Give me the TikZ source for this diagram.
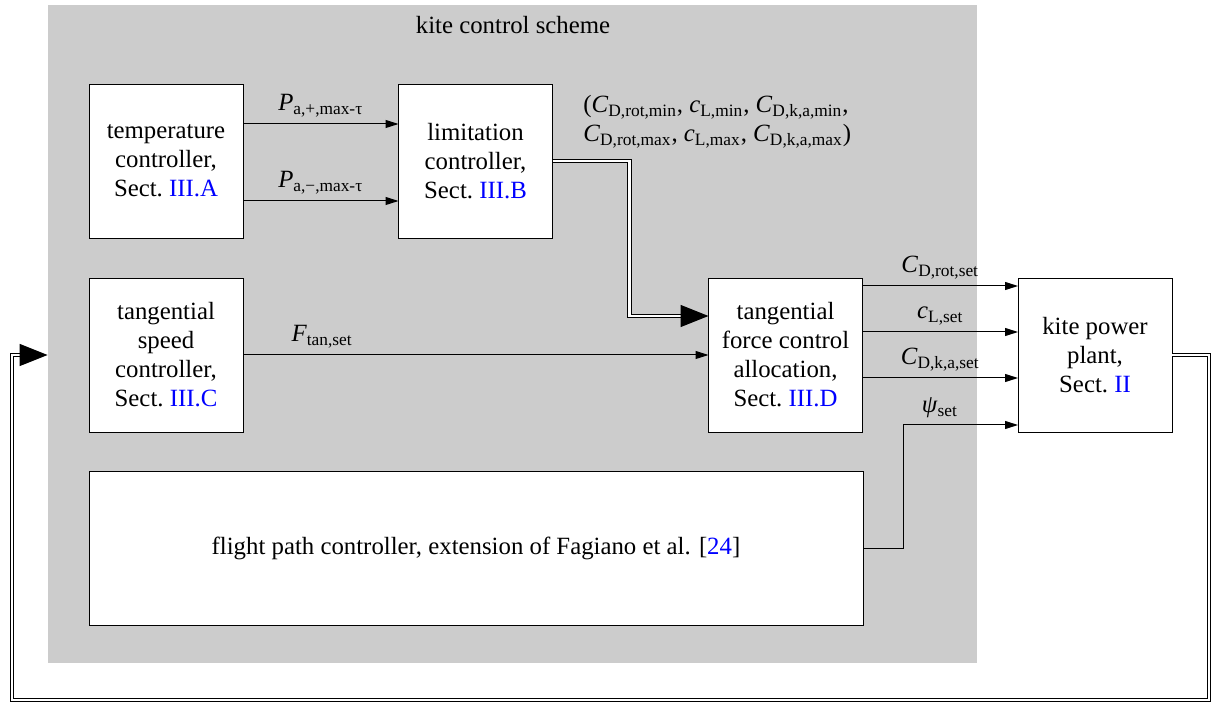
\documentclass[tikz,border=0pt]{standalone}
\usepackage{fontspec}
\setmainfont{Liberation Serif}
\usetikzlibrary{arrows.meta,positioning,calc}
\tikzset{
    scheme color/.style={fill=gray!40},
    block/.style={draw,fill=white,thin,minimum width=77pt,minimum height=77pt,align=center,inner sep=2pt,outer sep=0pt},
    arr/.style={-{Triangle[length=6.5pt,width=4pt]},line width=0.5pt},
    dblarr/.style={double,double distance=1.2pt,line width=0.6pt,-{Triangle[length=14pt,width=11pt]}},
}
\tikzstyle{every node}=[font=\fontsize{12.4}{14.5}\selectfont]
\newcommand{\sig}[2]{\textit{#1}\textsubscript{#2}}
\newcommand{\sectref}[1]{Sect.~\textcolor{blue}{#1}}

\begin{document}
\begin{tikzpicture}[x=0.5pt,y=-0.5pt]
    \useasboundingbox (0,0) rectangle (1211,705);
    % control scheme background
    \node[scheme color,minimum width=464.5pt,minimum height=329pt,inner sep=0pt] (scheme) at (512.5,334) {};
    \node[anchor=north] (title) at (513,9) {kite control scheme};
    % blocks
    \node[block] (temp) at (166,161) {temperature\\controller,\\\sectref{III.A}};
    \node[block] (limit) at (475.5,161) {limitation\\controller,\\\sectref{III.B}};
    \node[block] (speed) at (166,355) {tangential\\speed\\controller,\\\sectref{III.C}};
    \node[block] (force) at (785.5,355) {tangential\\force control\\allocation,\\\sectref{III.D}};
    \node[block,minimum width=387pt] (flight) at (476,548.5) {flight path controller, extension of Fagiano et al. [\textcolor{blue}{24}]};
    \node[block] (plant) at (1095,355) {kite power\\plant,\\\sectref{II}};
    % signals
    \draw[arr] ($(temp.east)+(0,18.5pt)$) -- node[above] {\sig{P}{a,+,max-τ}} ($(limit.west)+(0,18.5pt)$);
    \draw[arr] ($(temp.east)+(0,-20pt)$) -- node[above] {\sig{P}{a,−,max-τ}} ($(limit.west)+(0,-20pt)$);
    \draw[dblarr] (limit.east) -- ++(38.5pt,0) |- ($(force.west)+(0,19.5pt)$);
    \node[anchor=west,align=left,inner sep=0pt] (limits) at (583,122) {(\sig{C}{D,rot,min}, \sig{c}{L,min}, \sig{C}{D,k,a,min},\\\sig{C}{D,rot,max}, \sig{c}{L,max}, \sig{C}{D,k,a,max})};
    \draw[arr] (speed.east) -- node[above,pos=0.17] {\sig{F}{tan,set}} (force.west);
    \draw[arr] ($(force.east)+(0,34.5pt)$) -- node[above] {\sig{C}{D,rot,set}} ($(plant.west)+(0,34.5pt)$);
    \draw[arr] ($(force.east)+(0,11.5pt)$) -- node[above] {\sig{c}{L,set}} ($(plant.west)+(0,11.5pt)$);
    \draw[arr] ($(force.east)+(0,-11.5pt)$) -- node[above] {\sig{C}{D,k,a,set}} ($(plant.west)+(0,-11.5pt)$);
    \draw[arr] (flight.east) -- ++(20pt,0) |- node[pos=0.66,above] {\sig{ψ}{set}} ($(plant.west)+(0,-35pt)$);
    % feedback
    \coordinate (fbr) at (1209,700);
    \coordinate (fbl) at (12,700);
    \draw[dblarr] (plant.east) -| (fbr) -- (fbl) |- (scheme.west |- plant.east);
\end{tikzpicture}
\end{document}
